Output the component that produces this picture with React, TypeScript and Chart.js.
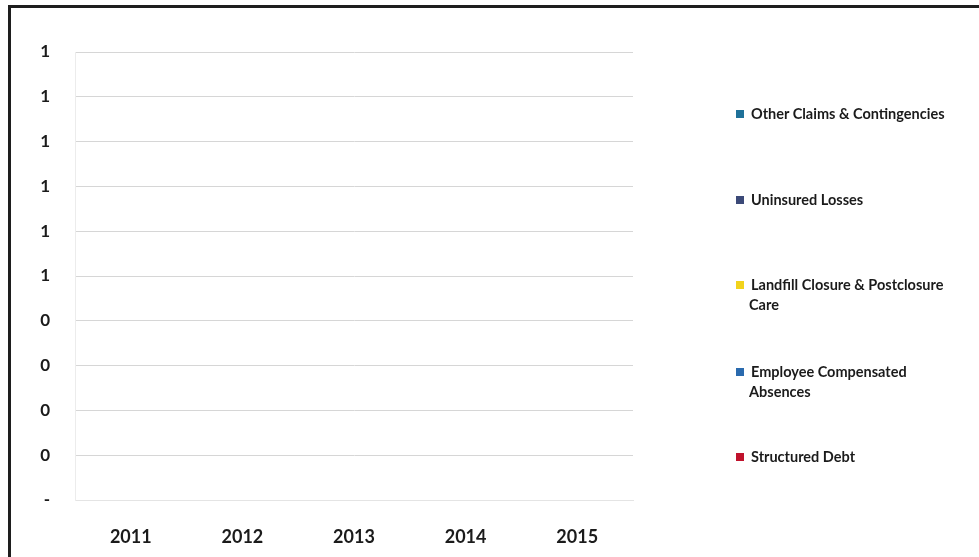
import React, { useEffect, useRef } from "react";
import { Chart, registerables } from "chart.js";

Chart.register(...registerables);

const categories = ["2011", "2012", "2013", "2014", "2015"];
const seriesNames = [
  "Other Claims & Contingencies",
  "Uninsured Losses",
  "Landfill Closure & Postclosure Care",
  "Employee Compensated Absences",
  "Structured Debt",
];
const otherClaims = [0, 0, 0, 0, 0];
const uninsuredLosses = [0, 0, 0, 0, 0];
const landfillClosure = [0, 0, 0, 0, 0];
const employeeAbsences = [0, 0, 0, 0, 0];
const structuredDebt = [0, 0, 0, 0, 0];
const seriesValues = [otherClaims, uninsuredLosses, landfillClosure, employeeAbsences, structuredDebt];
const yTickLabels = ["-", "0", "0", "0", "0", "1", "1", "1", "1", "1", "1"];
const legendLines = [
  ["Other Claims & Contingencies"],
  ["Uninsured Losses"],
  ["Landfill Closure & Postclosure", "Care"],
  ["Employee Compensated", "Absences"],
  ["Structured Debt"],
];

const seriesColors = ["#1f7199", "#3c4a78", "#f2d31c", "#2a6aae", "#c0122c"];
const legendCenters = [114, 200, 285, 372, 457];

const FONT = "Lato, 'Open Sans', sans-serif";

export default function App() {
  const ref = useRef<HTMLCanvasElement | null>(null);

  useEffect(() => {
    if (!ref.current) return;
    const chart = new Chart(ref.current, {
      type: "bar",
      data: {
        labels: categories,
        datasets: seriesNames.map((name, i) => ({
          label: name,
          data: seriesValues[i],
          backgroundColor: seriesColors[i],
          borderWidth: 0,
        })),
      },
      options: {
        animation: false,
        responsive: false,
        maintainAspectRatio: false,
        layout: { padding: { top: 52, left: 0, right: 346, bottom: 0 } },
        plugins: {
          legend: { display: false },
          tooltip: { enabled: false },
          title: { display: false },
        },
        scales: {
          x: {
            stacked: true,
            grid: { display: false },
            border: { display: true, color: "#e4e4e4" },
            ticks: {
              font: { family: FONT, size: 18, weight: "bold" },
              color: "#1b1b1b",
              padding: 18,
              maxRotation: 0,
            },
            afterFit: (s: any) => {
              s.height = 57;
            },
          },
          y: {
            stacked: true,
            min: 0,
            max: 1,
            grid: { color: "#d6d6d6", drawTicks: false },
            border: { display: true, color: "#ececec" },
            ticks: {
              stepSize: 0.1,
              font: { family: FONT, size: 17, weight: "bold" },
              color: "#1b1b1b",
              padding: 25,
              callback: (_v: any, i: number) => yTickLabels[i],
            },
            afterFit: (s: any) => {
              s.width = 75;
            },
          },
        },
      },
    });
    return () => chart.destroy();
  }, []);

  return (
    <div
      style={{
        position: "fixed",
        left: 0,
        top: 0,
        width: 979,
        height: 557,
        overflow: "hidden",
        background: "#ffffff",
        fontFamily: FONT,
      }}
    >
      <canvas
        ref={ref}
        width={979}
        height={557}
        style={{ position: "absolute", left: 0, top: 0, width: 979, height: 557 }}
      />
      <div
        style={{
          position: "absolute",
          left: 8,
          top: 5,
          width: 971,
          height: 3,
          background: "#1e1e1e",
        }}
      />
      <div
        style={{
          position: "absolute",
          left: 8,
          top: 5,
          width: 3,
          height: 552,
          background: "#1e1e1e",
        }}
      />
      {legendLines.map((lines, i) => (
        <div
          key={i}
          style={{
            position: "absolute",
            left: 736,
            top: legendCenters[i] - 10,
            width: 240,
          }}
        >
          <div
            style={{
              position: "absolute",
              left: 0,
              top: 6,
              width: 8,
              height: 8,
              background: seriesColors[i],
            }}
          />
          {lines.map((ln, j) => (
            <div
              key={j}
              style={{
                position: "absolute",
                left: j === 0 ? 15 : 13,
                top: j * 20,
                height: 20,
                lineHeight: "20px",
                fontSize: 14.5,
                fontWeight: 700,
                color: "#1b1b1b",
                whiteSpace: "nowrap",
              }}
            >
              {ln}
            </div>
          ))}
        </div>
      ))}
    </div>
  );
}
